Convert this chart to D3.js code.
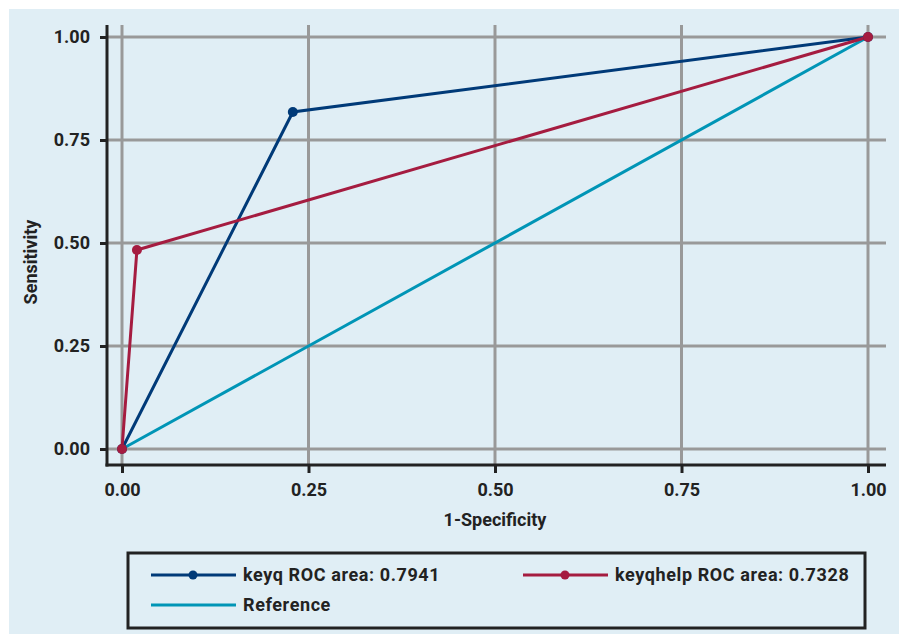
<!DOCTYPE html>
<html><head><meta charset="utf-8">
<script src="https://cdn.jsdelivr.net/npm/d3@7"></script>
<style>body{margin:0;background:#fff}svg{display:block}text{font-family:Roboto,"DejaVu Sans",sans-serif;font-weight:700;fill:#222}</style>
</head><body><svg id="c" width="902" height="637"></svg>
<script>
const ticks = [0, 0.25, 0.5, 0.75, 1];
const tickLabels = ["0.00", "0.25", "0.50", "0.75", "1.00"];
const keyqX = [0, 0.229, 1];
const keyqY = [0, 0.818, 1];
const helpX = [0, 0.02, 1];
const helpY = [0, 0.483, 1];
const refX = [0, 1];
const refY = [0, 1];
const seriesNames = ["keyq ROC area: 0.7941", "keyqhelp ROC area: 0.7328", "Reference"];
const colors = ["#003a78", "#a51c40", "#0095b6"];

const svg = d3.select("#c");
svg.append("rect").attr("x",9).attr("y",9).attr("width",890).attr("height",625).attr("fill","#e0eef5");
const x = d3.scaleLinear().domain([0,1]).range([122,868]);
const y = d3.scaleLinear().domain([0,1]).range([449,37]);

// grid
svg.append("g").selectAll("line").data(ticks).join("line")
  .attr("x1",107).attr("x2",886).attr("y1",d=>y(d)).attr("y2",d=>y(d))
  .attr("stroke","#999").attr("stroke-width",3);
svg.append("g").selectAll("line").data(ticks).join("line")
  .attr("x1",d=>x(d)).attr("x2",d=>x(d)).attr("y1",25).attr("y2",465)
  .attr("stroke","#999").attr("stroke-width",3);

// axes
const ya = d3.axisLeft(y).tickValues(ticks).tickFormat((d,i)=>tickLabels[i]).tickSize(7).tickPadding(10);
const gy = svg.append("g").attr("transform","translate(107,0)").call(ya);
const xa = d3.axisBottom(x).tickValues(ticks).tickFormat((d,i)=>tickLabels[i]).tickSize(8).tickPadding(10);
const gx = svg.append("g").attr("transform","translate(0,465)").call(xa);
[gy,gx].forEach(g=>{
  g.select(".domain").remove();
  g.selectAll(".tick line").attr("stroke","#222").attr("stroke-width",3);
  g.selectAll(".tick text").style("font-size","18px").style("font-family","Roboto,'DejaVu Sans',sans-serif").style("font-weight","700").attr("fill","#222");
});
svg.append("line").attr("x1",107).attr("x2",107).attr("y1",25).attr("y2",466.5).attr("stroke","#222").attr("stroke-width",3);
svg.append("line").attr("x1",105.5).attr("x2",886).attr("y1",465).attr("y2",465).attr("stroke","#222").attr("stroke-width",3);

// lines
const line = d3.line().x(d=>x(d[0])).y(d=>y(d[1]));
const series = [
  {xs:keyqX, ys:keyqY, c:colors[0], marks:true},
  {xs:helpX, ys:helpY, c:colors[1], marks:true},
  {xs:refX, ys:refY, c:colors[2], marks:false}
];
const order = [2,0,1];
order.forEach(i=>{
  const s = series[i];
  const pts = s.xs.map((v,j)=>[v,s.ys[j]]);
  svg.append("path").attr("d",line(pts)).attr("fill","none").attr("stroke",s.c).attr("stroke-width",3);
});
[0,1].forEach(i=>{
  const s = series[i];
  const pts = s.xs.map((v,j)=>[v,s.ys[j]]);
  svg.append("g").selectAll("circle").data(pts).join("circle")
    .attr("cx",d=>x(d[0])).attr("cy",d=>y(d[1])).attr("r",5).attr("fill",s.c);
});

// axis titles
svg.append("text").attr("x",(x(0)+x(1))/2).attr("y",526).attr("text-anchor","middle").style("font-size","18px").text("1-Specificity");
svg.append("text").attr("transform","translate(37,262) rotate(-90)").attr("text-anchor","middle").style("font-size","18px").text("Sensitivity");

// legend
svg.append("rect").attr("x",128).attr("y",553).attr("width",737).attr("height",75).attr("fill","none").attr("stroke","#222").attr("stroke-width",3);
const leg = [
  {x:151, y:575, i:0, m:true},
  {x:523, y:575, i:1, m:true},
  {x:151, y:605, i:2, m:false}
];
leg.forEach(l=>{
  svg.append("line").attr("x1",l.x).attr("x2",l.x+85).attr("y1",l.y).attr("y2",l.y).attr("stroke",colors[l.i]).attr("stroke-width",3);
  if(l.m) svg.append("circle").attr("cx",l.x+42).attr("cy",l.y).attr("r",4.5).attr("fill",colors[l.i]);
  svg.append("text").attr("x",l.x+92).attr("y",l.y+6).style("font-size","18px").style("letter-spacing","0.6px").text(seriesNames[l.i]);
});
</script></body></html>
